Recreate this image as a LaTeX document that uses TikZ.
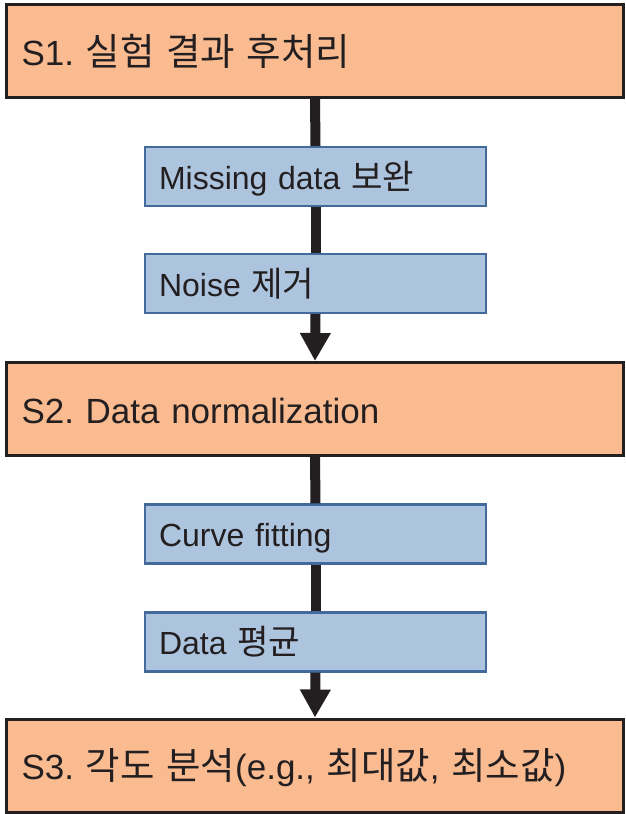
\documentclass[tikz,border=0pt]{standalone}
\usepackage{fontspec}
\setmainfont{Liberation Sans}
\newfontfamily\kr[Scale=1.07]{Noto Sans CJK KR}
\usetikzlibrary{arrows.meta}
\definecolor{orfill}{HTML}{FABB91}
\definecolor{dk}{HTML}{231F20}
\definecolor{blfill}{HTML}{ADC4DF}
\definecolor{bldraw}{HTML}{44699B}
\tikzset{
  stagebox/.style={draw=dk, line width=3pt, fill=orfill, minimum width=617pt, minimum height=93pt,
    inner xsep=15pt, inner ysep=0pt, text width=587pt, align=left, text=dk,
    font=\fontsize{35}{40}\selectfont, text height=30pt, text depth=2pt},
  subbox/.style={draw=bldraw, line width=2.2pt, fill=blfill, minimum width=341pt, minimum height=59pt,
    inner xsep=14pt, inner ysep=0pt, text width=313pt, align=left, text=dk,
    font=\fontsize{32}{38}\selectfont, text height=26pt, text depth=1pt},
  flow/.style={draw=dk, line width=10pt},
  flowarrow/.style={flow, -{Triangle[width=29pt,length=28pt]}}
}
\frenchspacing
\begin{document}
\frenchspacing
\begin{tikzpicture}[x=1pt,y=-1pt]
\useasboundingbox (0,0) rectangle (625,814);
\node[stagebox] (s1) at (315,51) {S1. {\kr 실험 결과 후처리}};
\node[subbox] (b1) at (315.5,176.5) {Missing data {\kr 보완}};
\node[subbox] (b2) at (315.5,283.5) {Noise {\kr 제거}};
\node[stagebox] (s2) at (315,409) {S2. Data normalization};
\node[subbox] (b3) at (315.5,534) {Curve fitting};
\node[subbox] (b4) at (315.5,642) {Data {\kr 평균}};
\node[stagebox] (s3) at (315,765.5) {S3. {\kr 각도 분석}(e.g., {\kr 최대값}, {\kr 최소값})};
\draw[flow] (s1.south) -- (b1.north);
\draw[flow] (b1.south) -- (b2.north);
\draw[flowarrow] (b2.south) -- (s2.north);
\draw[flow] (s2.south) -- (b3.north);
\draw[flow] (b3.south) -- (b4.north);
\draw[flowarrow] (b4.south) -- (s3.north);
\end{tikzpicture}
\end{document}
